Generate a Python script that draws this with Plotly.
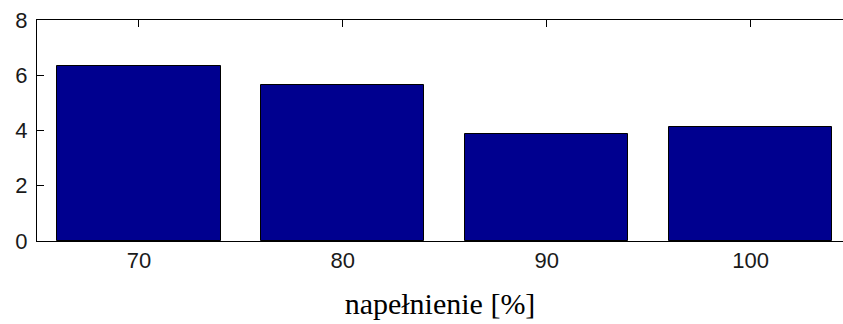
import plotly.graph_objects as go

# Fill level categories and measured values
fill_levels = [70, 80, 90, 100]
values = [6.35, 5.65, 3.86, 4.12]
y_ticks = [0, 2, 4, 6, 8]
x_label = "napełnienie [%]"

BAR_COLOR = "#00008F"
TICK_FONT = dict(family="Liberation Sans, Arial", size=22, color="#1a1a1a")

fig = go.Figure(
    go.Bar(
        x=fill_levels,
        y=values,
        width=8,
        marker=dict(color=BAR_COLOR, line=dict(color="#000000", width=1)),
        hoverinfo="skip",
    )
)

fig.update_layout(
    width=843,
    height=324,
    margin=dict(l=37, r=0, t=20, b=83),
    paper_bgcolor="white",
    plot_bgcolor="white",
    showlegend=False,
    bargap=0,
)

fig.update_xaxes(
    range=[65, 104.53],
    tickvals=fill_levels,
    ticktext=[str(v) for v in fill_levels],
    tickfont=TICK_FONT,
    showline=True,
    linecolor="#000000",
    linewidth=1,
    mirror="ticks",
    ticks="inside",
    ticklen=7,
    tickcolor="#000000",
    showgrid=False,
    zeroline=False,
    layer="below traces",
    ticklabelstandoff=0,
    title=dict(
        text=x_label,
        font=dict(family="Liberation Serif, Times New Roman, serif", size=30, color="#000000"),
        standoff=20,
    ),
)

fig.update_yaxes(
    range=[0, 8],
    tickvals=y_ticks,
    ticktext=[str(v) for v in y_ticks],
    tickfont=TICK_FONT,
    showline=True,
    linecolor="#000000",
    linewidth=1,
    mirror=False,
    ticks="inside",
    ticklen=7,
    tickcolor="#000000",
    showgrid=False,
    zeroline=False,
    layer="below traces",
    ticklabelstandoff=4,
)

fig.write_html("out.html")
